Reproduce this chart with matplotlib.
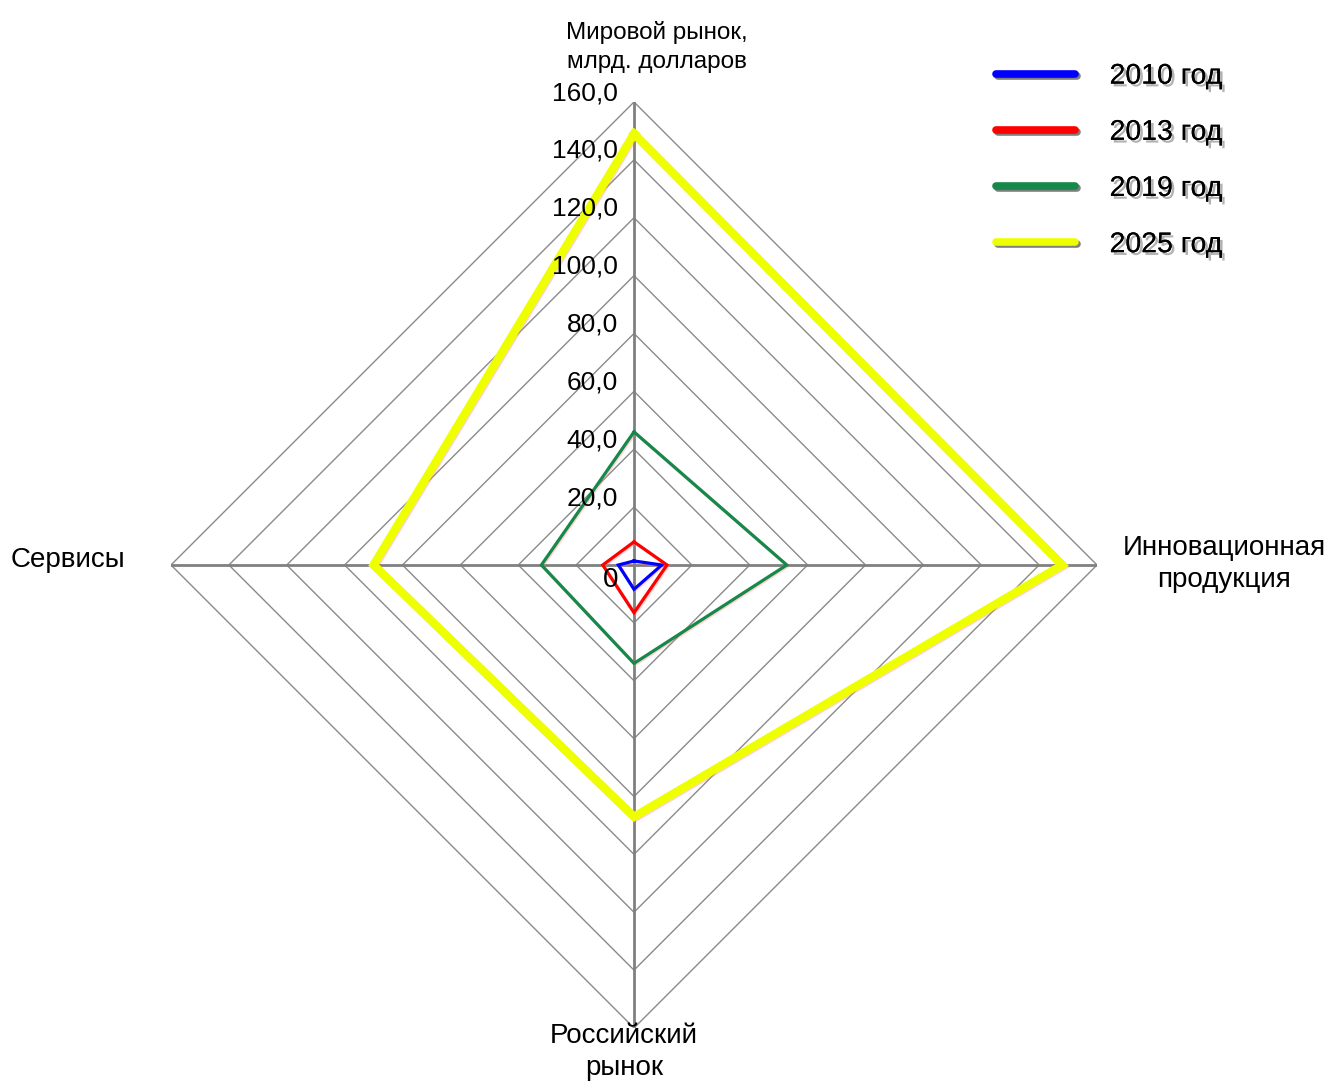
import numpy as np
import matplotlib.pyplot as plt
import matplotlib.patheffects as pe
import matplotlib.transforms as mtransforms

plt.rcParams['font.family'] = ['Liberation Sans', 'DejaVu Sans']

# axes of the radar, clockwise from the top
categories = ["Мировой рынок,\nмлрд. долларов", "Инновационная\nпродукция",
              "Российский\nрынок", "Сервисы"]
years = ["2010 год", "2013 год", "2019 год", "2025 год"]
values_2010 = [1.4, 9.6, 8.4, 5.4]
values_2013 = [8.0, 11.4, 16.5, 10.8]
values_2019 = [46.0, 52.8, 34.0, 32.0]
values_2025 = [149.0, 148.0, 87.0, 90.0]
ring_values = [20, 40, 60, 80, 100, 120, 140, 160]
tick_labels = ["20,0", "40,0", "60,0", "80,0", "100,0", "120,0", "140,0", "160,0"]

colors = ["#0000ff", "#ff0000", "#15884a", "#eeff00"]
widths = [2.3, 2.3, 2.3, 6.0]
series = [values_2010, values_2013, values_2019, values_2025]

angles = np.arange(len(categories)) * 2 * np.pi / len(categories)
closed = np.append(angles, angles[0])

fig = plt.figure(figsize=(13.3, 10.83), dpi=100)
ax = fig.add_axes([171 / 1330, 55 / 1083, 926 / 1330, 926 / 1083], projection="polar")
ax.set_theta_zero_location("N")
ax.set_theta_direction(-1)
ax.set_ylim(0, 160)
ax.grid(False)
ax.spines["polar"].set_visible(False)
ax.set_xticks([])
ax.set_yticks([])
ax.patch.set_visible(False)

# diamond rings and spokes
for r in ring_values:
    ax.plot(closed, [r] * len(closed), color="#8a8a8a", lw=1.0, zorder=1)
for a in angles:
    ax.plot([a, a], [0, 160], color="#808080", lw=2.0, zorder=2)

shadow = [pe.SimpleLineShadow(offset=(0.8, -0.8), shadow_color="#ff8080", alpha=0.35),
          pe.Normal()]
for vals, c, w, lab in zip(series, colors, widths, years):
    ax.plot(closed, vals + vals[:1], color=c, lw=w, label=lab,
            solid_joinstyle="miter", zorder=4, path_effects=shadow)

# radial tick labels along the top spoke
tick_tr = mtransforms.offset_copy(ax.transData, fig=fig, x=-16, y=9, units="dots")
for r, t in zip(ring_values, tick_labels):
    ax.text(0, r, t, ha="right", va="center", fontsize=19,
            transform=tick_tr, zorder=5)
zero_tr = mtransforms.offset_copy(ax.transData, fig=fig, x=-16, y=-15, units="dots")
ax.text(0, 0, "0", ha="right", va="center", fontsize=20, transform=zero_tr, zorder=5)

# category labels
fig.text(657 / 1330, 1 - 47 / 1083, categories[0], ha="center", va="center",
         fontsize=17.5, linespacing=1.45)
fig.text(1224 / 1330, 1 - 564 / 1083, categories[1], ha="center", va="center",
         fontsize=20, linespacing=1.3)
fig.text(624 / 1330, 1 - 1052 / 1083, categories[2], ha="center", va="center",
         fontsize=20, linespacing=1.3)
fig.text(68 / 1330, 1 - 560 / 1083, categories[3], ha="center", va="center",
         fontsize=20)

# legend with soft shadows
handles = []
for c in colors:
    h, = plt.plot([], [], color=c, lw=5.5, solid_capstyle="round",
                  path_effects=[pe.SimpleLineShadow(offset=(1.5, -1.5), alpha=0.5), pe.Normal()])
    handles.append(h)
leg = fig.legend(handles, years, loc="upper left", bbox_to_anchor=(970 / 1330, 1 - 38 / 1083),
                 frameon=False, fontsize=20.5, handlelength=2.8, handletextpad=1.2,
                 labelspacing=1.06)
for t in leg.get_texts():
    t.set_path_effects([pe.withSimplePatchShadow(offset=(2, -2), alpha=0.3), pe.Normal()])

fig.savefig("out.png", dpi=100)
